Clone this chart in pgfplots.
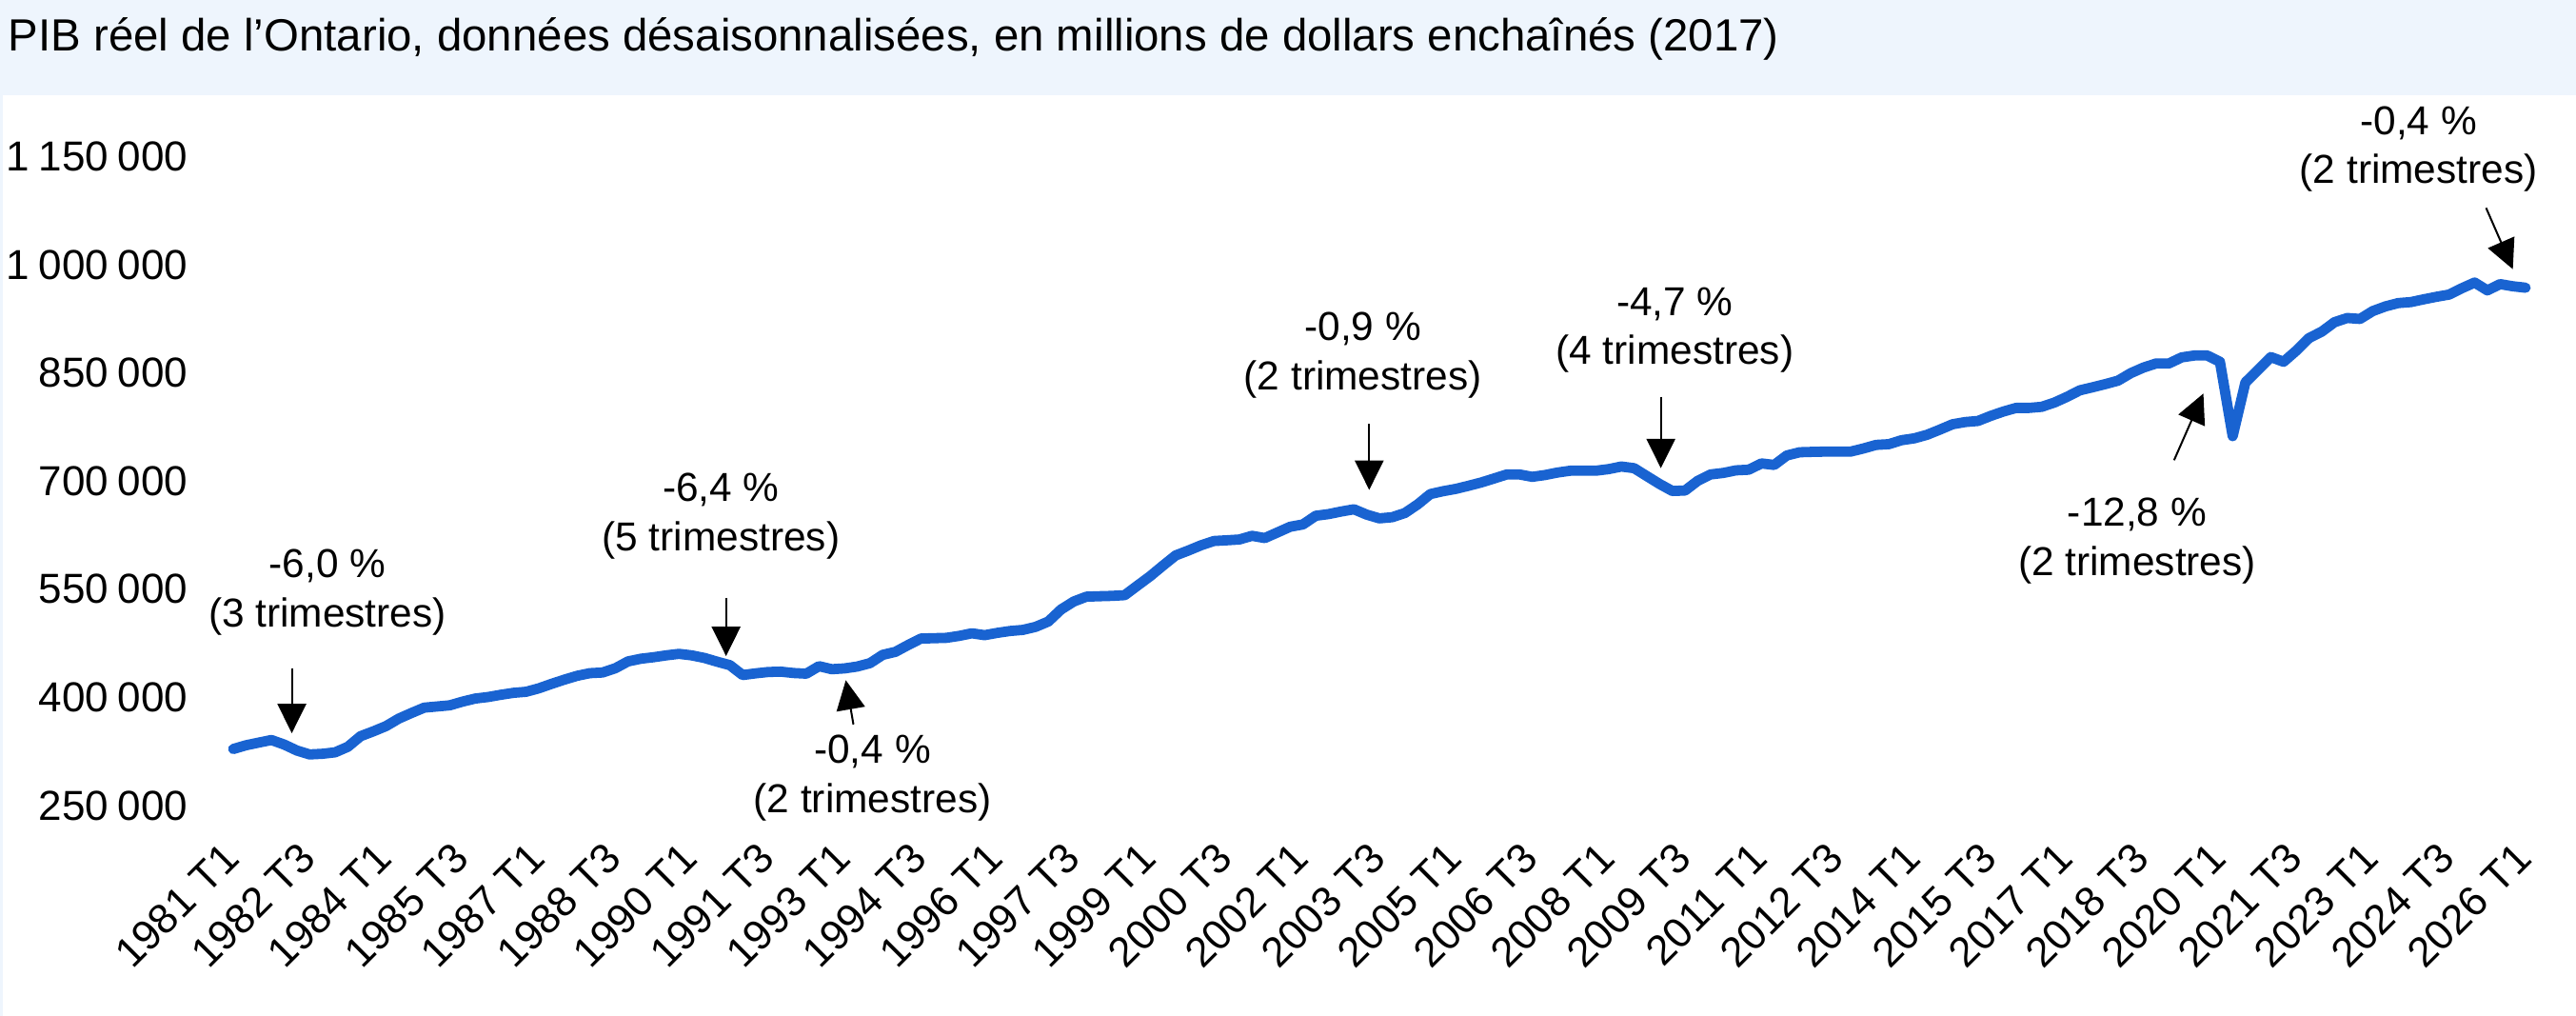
\documentclass[border=0pt]{standalone}
\usepackage{fontspec}
\setmainfont{Liberation Sans}
\usepackage{pgfplots}
\usepackage{pgfplotstable}
\pgfplotsset{compat=1.18}
\usetikzlibrary{arrows.meta}
\definecolor{linecol}{RGB}{25,99,209}
\definecolor{titlebg}{RGB}{238,245,253}

\pgfplotstableread{
i v
0 328400
1 333600
2 337300
3 340900
4 334600
5 326300
6 320900
7 321800
8 323800
9 331500
10 346200
11 352900
12 360200
13 370600
14 378400
15 385800
16 387400
17 389000
18 394100
19 398400
20 400500
21 403600
22 406300
23 407800
24 412600
25 418800
26 424600
27 429900
28 433600
29 434500
30 440400
31 449900
32 453600
33 455700
34 458300
35 460400
36 458300
37 454700
38 449500
39 444700
40 431000
41 433300
42 435200
43 435700
44 433800
45 432900
46 443300
47 439100
48 440200
49 442800
50 447500
51 459000
52 463200
53 472700
54 481600
55 482100
56 482600
57 485300
58 488900
59 486300
60 489500
61 492100
62 493600
63 497800
64 505200
65 521900
66 533000
67 539700
68 540300
69 540800
70 541800
71 555000
72 568100
73 582700
74 596900
75 603700
76 611000
77 616900
78 617900
79 619000
80 624100
81 621000
82 628800
83 636700
84 639900
85 651900
86 654200
87 657800
88 660900
89 653500
90 648300
91 649900
92 655700
93 667600
94 682000
95 686000
96 689200
97 693500
98 698100
99 703600
100 709200
101 709200
102 705900
103 708400
104 711900
105 714400
106 714400
107 714400
108 716600
109 720200
110 717900
111 706900
112 696000
113 686300
114 686900
115 700400
116 709200
117 711300
118 714900
119 715800
120 724500
121 722400
122 735600
123 740000
124 740500
125 740900
126 740900
127 740900
128 745200
129 750200
130 751200
131 756700
132 759300
133 764200
134 771300
135 778800
136 781900
137 783400
138 790400
139 796500
140 801500
141 801500
142 803000
143 808900
144 816900
145 825900
146 830100
147 834500
148 839300
149 849700
150 857500
151 863200
152 863200
153 871600
154 874200
155 874200
156 865500
157 762300
158 836800
159 854400
160 872000
161 865500
162 880900
163 898400
164 907300
165 920400
166 926200
167 924900
168 935800
169 942300
170 946900
171 948300
172 952100
173 955600
174 958700
175 967500
176 975400
177 964500
178 973200
179 970200
180 968200
}\gdp

\begin{document}
\begin{tikzpicture}[x=1pt,y=1pt,
  annot/.style={align=center, font=\fontsize{10.6}{12.9}\selectfont, inner sep=0pt},
  arr/.style={-{Triangle[length=7.7pt,width=7.5pt]}, line width=0.5pt, black}]
\fill[titlebg] (0,241.75) rectangle (676.5,266.75);
\fill[titlebg] (0,0) rectangle (0.75,266.75);
\useasboundingbox (0,0) rectangle (676.5,266.75);
\node[anchor=base west, inner sep=0pt, font=\fontsize{11.85}{14}\selectfont] at (2,253.25)
  {PIB réel de l’Ontario, données désaisonnalisées, en millions de dollars enchaînés (2017)};
\begin{axis}[
  at={(61.25pt,55.25pt)}, anchor=south west,
  scale only axis, width=602pt, height=170.375pt,
  xmin=0, xmax=180, ymin=250000, ymax=1150000,
  axis line style={draw=none}, major tick length=0pt,
  scaled y ticks=false, scaled x ticks=false,
  ytick={250000,400000,550000,700000,850000,1000000,1150000},
  yticklabels={250\hspace{0.22em}000,400\hspace{0.22em}000,550\hspace{0.22em}000,700\hspace{0.22em}000,850\hspace{0.22em}000,1\hspace{0.22em}000\hspace{0.22em}000,1\hspace{0.22em}150\hspace{0.22em}000},
  xtick={0,6,12,18,24,30,36,42,48,54,60,66,72,78,84,90,96,102,108,114,120,126,132,138,144,150,156,162,168,174,180},
  xticklabels={1981 T1,1982 T3,1984 T1,1985 T3,1987 T1,1988 T3,1990 T1,1991 T3,1993 T1,1994 T3,1996 T1,1997 T3,1999 T1,2000 T3,2002 T1,2003 T3,2005 T1,2006 T3,2008 T1,2009 T3,2011 T1,2012 T3,2014 T1,2015 T3,2017 T1,2018 T3,2020 T1,2021 T3,2023 T1,2024 T3,2026 T1},
  tick label style={font=\fontsize{11}{13}\selectfont},
  yticklabel style={anchor=east, inner sep=0pt, xshift=-11.75pt},
  xticklabel style={xshift=-0.4pt, yshift=-11.83pt, rotate=45, anchor=east, inner sep=0pt},
  clip=false,
  /pgf/number format/assume math mode=true,
]
\addplot[linecol, line width=2.7pt, line join=round, line cap=round] table[x=i,y=v] {\gdp};

\node[annot] at (axis cs:7.4,545800) {-6,0 \%\\(3 trimestres)};
\draw[arr] (axis cs:4.6,440200) -- (axis cs:4.6,350350);

\node[annot] at (axis cs:38.3,651500) {-6,4 \%\\(5 trimestres)};
\draw[arr] (axis cs:38.7,537900) -- (axis cs:38.7,457300);

\node[annot] at (axis cs:50.2,288200) {-0,4 \%\\(2 trimestres)};
\draw[arr] (axis cs:48.7,362500) -- (axis cs:48.1,423800);

\node[annot] at (axis cs:88.7,874900) {-0,9 \%\\(2 trimestres)};
\draw[arr] (axis cs:89.2,779000) -- (axis cs:89.2,687800);

\node[annot] at (axis cs:113.2,909400) {-4,7 \%\\(4 trimestres)};
\draw[arr] (axis cs:112.1,816900) -- (axis cs:112.1,717900);

\node[annot] at (axis cs:149.5,617200) {-12,8 \%\\(2 trimestres)};
\draw[arr] (axis cs:152.4,729000) -- (axis cs:154.7,821400);

\node[annot] at (axis cs:171.6,1160300) {-0,4 \%\\(2 trimestres)};
\draw[arr] (axis cs:176.9,1078900) -- (axis cs:179.0,993900);
\end{axis}
\end{tikzpicture}
\end{document}
